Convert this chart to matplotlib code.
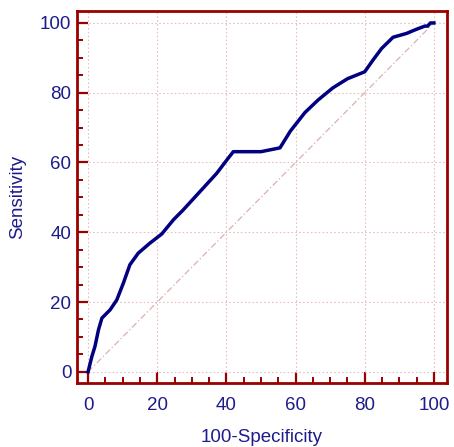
import matplotlib
matplotlib.use("Agg")
import matplotlib.pyplot as plt
from matplotlib.ticker import MultipleLocator

plt.rcParams["font.family"] = ["Liberation Sans", "DejaVu Sans"]

fpr = [0, 1.1, 2, 3, 4, 6.4, 8.3, 10.2, 12.1, 14.5, 17.9, 21.3, 24.7, 27.5, 32.4,
       37.2, 40.5, 42, 50, 55.5, 58.5, 62.7, 66.5, 70.8, 75, 80, 82.5, 84.9, 88.2,
       92.1, 95, 97.4, 98.2, 99, 100]
tpr = [0, 4.4, 7.3, 12, 15.4, 17.8, 20.6, 25.4, 30.7, 34, 36.9, 39.5, 43.6, 46.4, 51.7,
       56.9, 61.2, 63.1, 63.1, 64.2, 69, 74.3, 77.9, 81.4, 84, 86, 89.5, 92.7, 95.9,
       97, 98.2, 99.1, 99.1, 100, 100]

navy = "#1c1c8c"
frame = "#990000"

fig = plt.figure(figsize=(4.54, 4.47), dpi=100)
ax = fig.add_axes([0.1696, 0.1432, 0.815, 0.832])

ax.plot([0, 100], [0, 100], color="#dcb0b0", lw=0.9, ls=(0, (5, 2, 1, 2)))
ax.plot(fpr, tpr, color="#000080", lw=2.5, solid_joinstyle="round")

ax.set_xlim(-3.2, 103.8)
ax.set_ylim(-3.2, 103.4)
ax.xaxis.set_major_locator(MultipleLocator(20))
ax.xaxis.set_minor_locator(MultipleLocator(5))
ax.yaxis.set_major_locator(MultipleLocator(20))
ax.yaxis.set_minor_locator(MultipleLocator(5))

ax.grid(True, which="major", color="#e6c0c0", lw=0.8, ls=(0, (1.5, 2)))

for s in ax.spines.values():
    s.set_color(frame)
    s.set_linewidth(2)

ax.tick_params(which="major", direction="in", length=8, width=1.6, color=frame,
               labelcolor=navy, labelsize=13.5)
ax.tick_params(which="minor", direction="in", length=4, width=1.4, color=frame)
ax.tick_params(axis="x", which="major", pad=10)
ax.tick_params(axis="y", which="major", pad=4)

ax.set_xlabel("100-Specificity", color=navy, fontsize=13.5, labelpad=11)
ax.set_ylabel("Sensitivity", color=navy, fontsize=13.5, labelpad=10)

fig.savefig("out.png", dpi=100)
